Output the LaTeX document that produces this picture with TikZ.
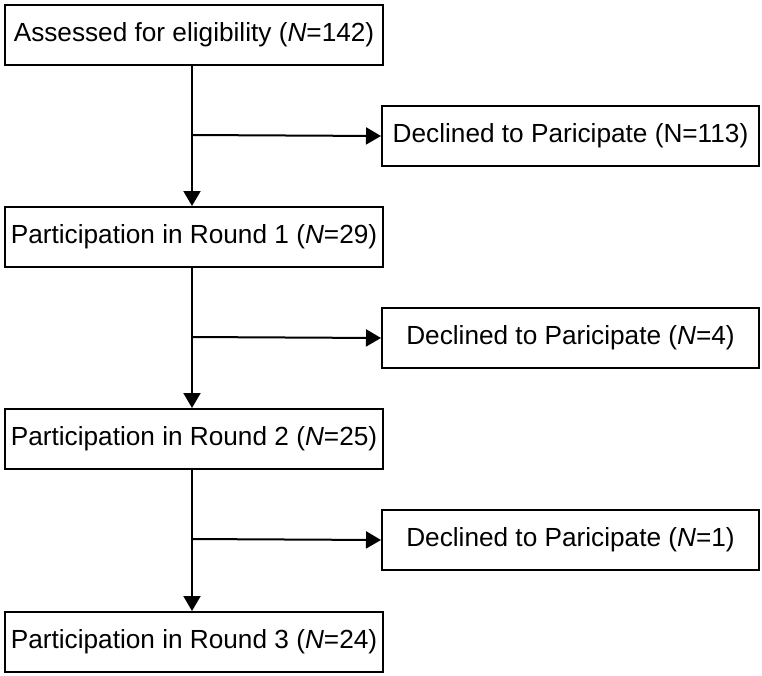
\documentclass[tikz,border=0pt]{standalone}
\usepackage{fontspec}
\setmainfont{Liberation Sans}
\usetikzlibrary{arrows.meta}
\begin{document}
\begin{tikzpicture}[x=1pt,y=-1pt,
  box/.style={draw=black,line width=2pt,inner sep=0pt,anchor=north west,
    minimum height=60pt,font=\fontsize{26.2pt}{30pt}\selectfont},
  leftbox/.style={box,minimum width=378pt},
  rightbox/.style={box,minimum width=377pt},
  conn/.style={line width=2pt,-{Triangle[length=15pt,width=17pt]}}]
\useasboundingbox (0,0) rectangle (762,675);
\node[leftbox] (a) at (4,4) {Assessed for eligibility (\textit{N}=142)};
\node[leftbox] (b) at (4,206) {Participation in Round 1 (\textit{N}=29)};
\node[leftbox] (c) at (4,408) {Participation in Round 2 (\textit{N}=25)};
\node[leftbox] (d) at (4,611) {Participation in Round 3 (\textit{N}=24)};
\node[rightbox] (r1) at (381,105) {Declined to Paricipate (N=113)};
\node[rightbox] (r2) at (381,307) {Declined to Paricipate (\textit{N}=4)};
\node[rightbox] (r3) at (381,509) {Declined to Paricipate (\textit{N}=1)};
\coordinate (j1) at (192,135);
\coordinate (j2) at (192,337);
\coordinate (j3) at (192,539);
\draw[conn] (a.south -| j1) -- (b.north -| j1);
\draw[conn] (b.south -| j2) -- (c.north -| j2);
\draw[conn] (c.south -| j3) -- (d.north -| j3);
\draw[conn] (j1) -- (r1.west);
\draw[conn] (j2) -- (r2.west);
\draw[conn] (j3) -- (r3.west);
\end{tikzpicture}
\end{document}
